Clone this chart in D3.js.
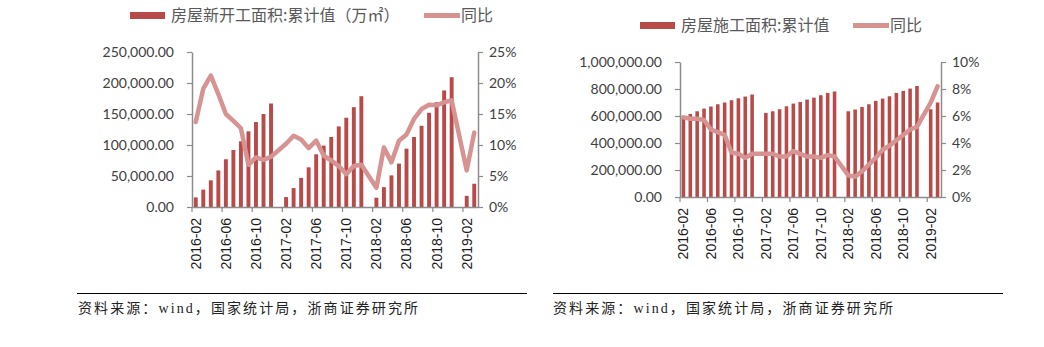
<!DOCTYPE html>
<html>
<head>
<meta charset="utf-8">
<script src="https://cdn.jsdelivr.net/npm/d3@7/dist/d3.min.js"></script>
<style>
  html, body { margin: 0; padding: 0; background: #fff; }
  svg { display: block; }
</style>
</head>
<body>
<script>
// ---------- DATA ----------
const months = [
  "2016-02","2016-03","2016-04","2016-05","2016-06","2016-07","2016-08","2016-09","2016-10","2016-11","2016-12",
  "2017-01","2017-02","2017-03","2017-04","2017-05","2017-06","2017-07","2017-08","2017-09","2017-10","2017-11","2017-12",
  "2018-01","2018-02","2018-03","2018-04","2018-05","2018-06","2018-07","2018-08","2018-09","2018-10","2018-11","2018-12",
  "2019-01","2019-02","2019-03"
];
const tickLabels = ["2016-02","2016-06","2016-10","2017-02","2017-06","2017-10","2018-02","2018-06","2018-10","2019-02"];

// 房屋新开工面积:累计值（万㎡）
const newStartArea = [
  15500, 28000, 43000, 59000, 77000, 92000, 106000, 122000, 137000, 150000, 166900,
  null,
  16000, 30500, 47000, 64000, 85000, 99000, 113000, 130000, 144000, 161000, 178700,
  null,
  15000, 32000, 51000, 70000, 94000, 113000, 131000, 152000, 169000, 188000, 209300,
  null,
  18000, 37500
];
// 同比 (%)
const newStartYoY = [
  13.7, 19.1, 21.2, 18.2, 15.0, 13.9, 12.7, 6.8, 8.0, 7.6, 8.1,
  null,
  10.2, 11.5, 10.9, 9.5, 10.7, 8.3, 7.5, 6.6, 5.3, 6.6, 6.8,
  null,
  3.1, 9.6, 7.2, 10.7, 11.7, 14.2, 15.8, 16.5, 16.4, 16.9, 17.2,
  null,
  5.9, 12.0
];

// 房屋施工面积:累计值
const constructionArea = [
  601000, 615000, 635000, 655000, 670000, 687000, 700000, 717000, 731000, 744000, 759000,
  null,
  623000, 635000, 650000, 672000, 692000, 704000, 722000, 736000, 754000, 771000, 781500,
  null,
  635000, 648000, 667000, 687000, 712000, 729000, 746000, 771000, 786000, 803000, 822300,
  null,
  650000, 700000
];
// 同比 (%)
const constructionYoY = [
  5.9, 5.8, 5.8, 5.7, 5.0, 4.8, 4.6, 3.3, 3.2, 2.9, 3.2,
  null,
  3.2, 3.2, 3.0, 3.0, 3.4, 3.2, 3.0, 3.0, 2.9, 3.1, 3.0,
  null,
  1.6, 1.5, 1.9, 2.4, 2.9, 3.5, 3.8, 4.2, 4.6, 5.0, 5.2,
  null,
  7.0, 8.2
];

const leftTicks1 = [0, 50000, 100000, 150000, 200000, 250000];
const rightTicks1 = [0, 5, 10, 15, 20, 25];
const leftTicks2 = [0, 200000, 400000, 600000, 800000, 1000000];
const rightTicks2 = [0, 2, 4, 6, 8, 10];

const sourceText = "资料来源：wind，国家统计局，浙商证券研究所";

// ---------- STYLE ----------
const BAR = "#b94a4a";
const LINE = "#d69392";
const AXIS = "#8c8c8c";
const TICKTXT = "#404040";

const svg = d3.select("body").append("svg")
  .attr("width", 1044).attr("height", 347)
  .style("background", "#fff");

function drawChart(cfg) {
  const g = svg.append("g");
  const x = d3.scaleBand().domain(months).range([cfg.x0, cfg.x1]).padding(0);
  const yL = d3.scaleLinear().domain([cfg.leftTicks[0], cfg.leftTicks[cfg.leftTicks.length - 1]]).range([cfg.yB, cfg.yT]);
  const yR = d3.scaleLinear().domain([cfg.rightTicks[0], cfg.rightTicks[cfg.rightTicks.length - 1]]).range([cfg.yB, cfg.yT]);

  // bars
  const bw = x.bandwidth() * cfg.barRatio;
  const barData = months.map((m, i) => ({ m, v: cfg.bars[i] })).filter(d => d.v != null);
  g.append("g").selectAll("rect").data(barData).join("rect")
    .attr("x", d => x(d.m) + (x.bandwidth() - bw) / 2)
    .attr("width", bw)
    .attr("y", d => yL(d.v))
    .attr("height", d => yL(0) - yL(d.v))
    .attr("fill", BAR);

  // left axis
  const axL = g.append("g").attr("transform", `translate(${cfg.x0},0)`)
    .call(d3.axisLeft(yL).tickValues(cfg.leftTicks).tickSize(5).tickSizeOuter(0).tickPadding(13)
      .tickFormat(d3.format(",.2f")));
  // right axis
  const axR = g.append("g").attr("transform", `translate(${cfg.x1},0)`)
    .call(d3.axisRight(yR).tickValues(cfg.rightTicks).tickSize(5).tickSizeOuter(0).tickPadding(6)
      .tickFormat(d => d + "%"));
  [axL, axR].forEach(a => {
    a.select(".domain").attr("stroke", AXIS).attr("stroke-width", 1.5);
    a.selectAll(".tick line").attr("stroke", AXIS).attr("stroke-width", 1.2);
    a.selectAll(".tick text").attr("fill", TICKTXT)
      .style("font-family", "Lato, 'Open Sans', sans-serif").style("font-size", "14px");
  });

  // bottom axis
  const axB = g.append("g").attr("transform", `translate(0,${cfg.yB})`)
    .call(d3.axisBottom(x).tickValues(tickLabels).tickSize(0).tickSizeOuter(0).tickPadding(0));
  axB.select(".domain").attr("stroke", AXIS).attr("stroke-width", 1.5);
  axB.selectAll(".tick text")
    .attr("transform", "rotate(-90)")
    .attr("x", -11).attr("y", 0).attr("dy", "0.35em")
    .attr("text-anchor", "end")
    .attr("fill", "#1a1a1a")
    .style("font-family", "'Liberation Sans', Arial, sans-serif").style("font-size", "14px");
  // boundary tick marks (Excel style, between categories)
  g.append("g").selectAll("line").data(tickLabels).join("line")
    .attr("x1", d => x(d)).attr("x2", d => x(d))
    .attr("y1", cfg.yB).attr("y2", cfg.yB + 5)
    .attr("stroke", AXIS).attr("stroke-width", 1.2);

  // line
  const lineData = months.map((m, i) => ({ m, v: cfg.line[i] })).filter(d => d.v != null);
  const line = d3.line().x(d => x(d.m) + x.bandwidth() / 2).y(d => yR(d.v));
  g.append("path").datum(lineData)
    .attr("d", line)
    .attr("fill", "none")
    .attr("stroke", LINE)
    .attr("stroke-width", 4.5)
    .attr("stroke-linejoin", "round")
    .attr("stroke-linecap", "round");

  // legend
  const lg = g.append("g").style("font-family", "'Noto Sans CJK SC', sans-serif").style("font-size", "16px");
  lg.append("rect").attr("x", cfg.legX).attr("y", cfg.legY - 3.5).attr("width", 35).attr("height", 7).attr("fill", BAR);
  lg.append("text").attr("x", cfg.legX + 41).attr("y", cfg.legY).attr("dy", "0.35em")
    .attr("fill", "#595959").text(cfg.barName);
  lg.append("line").attr("x1", cfg.legLineX).attr("x2", cfg.legLineX + 36)
    .attr("y1", cfg.legY).attr("y2", cfg.legY)
    .attr("stroke", LINE).attr("stroke-width", 5);
  lg.append("text").attr("x", cfg.legLineX + 37).attr("y", cfg.legY).attr("dy", "0.35em")
    .attr("fill", "#595959").text("同比");

  // source
  g.append("line").attr("x1", cfg.ruleX0).attr("x2", cfg.ruleX1).attr("y1", 293.5).attr("y2", 293.5)
    .attr("stroke", "#000").attr("stroke-width", 1);
  g.append("text").attr("x", cfg.srcX).attr("y", 308).attr("dy", "0.35em")
    .attr("textLength", 340).attr("lengthAdjust", "spacing")
    .style("font-family", "'Liberation Serif', 'Noto Sans CJK SC', serif").style("font-size", "14px")
    .attr("fill", "#222").text(sourceText);
}

drawChart({
  x0: 192, x1: 478, yB: 207, yT: 52, barRatio: 0.52,
  bars: newStartArea, line: newStartYoY,
  leftTicks: leftTicks1, rightTicks: rightTicks1,
  legX: 130, legY: 15.5, legLineX: 424,
  barName: "房屋新开工面积:累计值（万㎡）",
  ruleX0: 77, ruleX1: 527, srcX: 78
});

drawChart({
  x0: 680, x1: 941, yB: 197, yT: 62, barRatio: 0.52,
  bars: constructionArea, line: constructionYoY,
  leftTicks: leftTicks2, rightTicks: rightTicks2,
  legX: 640, legY: 25.5, legLineX: 853,
  barName: "房屋施工面积:累计值",
  ruleX0: 553, ruleX1: 1003, srcX: 553
});
</script>
</body>
</html>
